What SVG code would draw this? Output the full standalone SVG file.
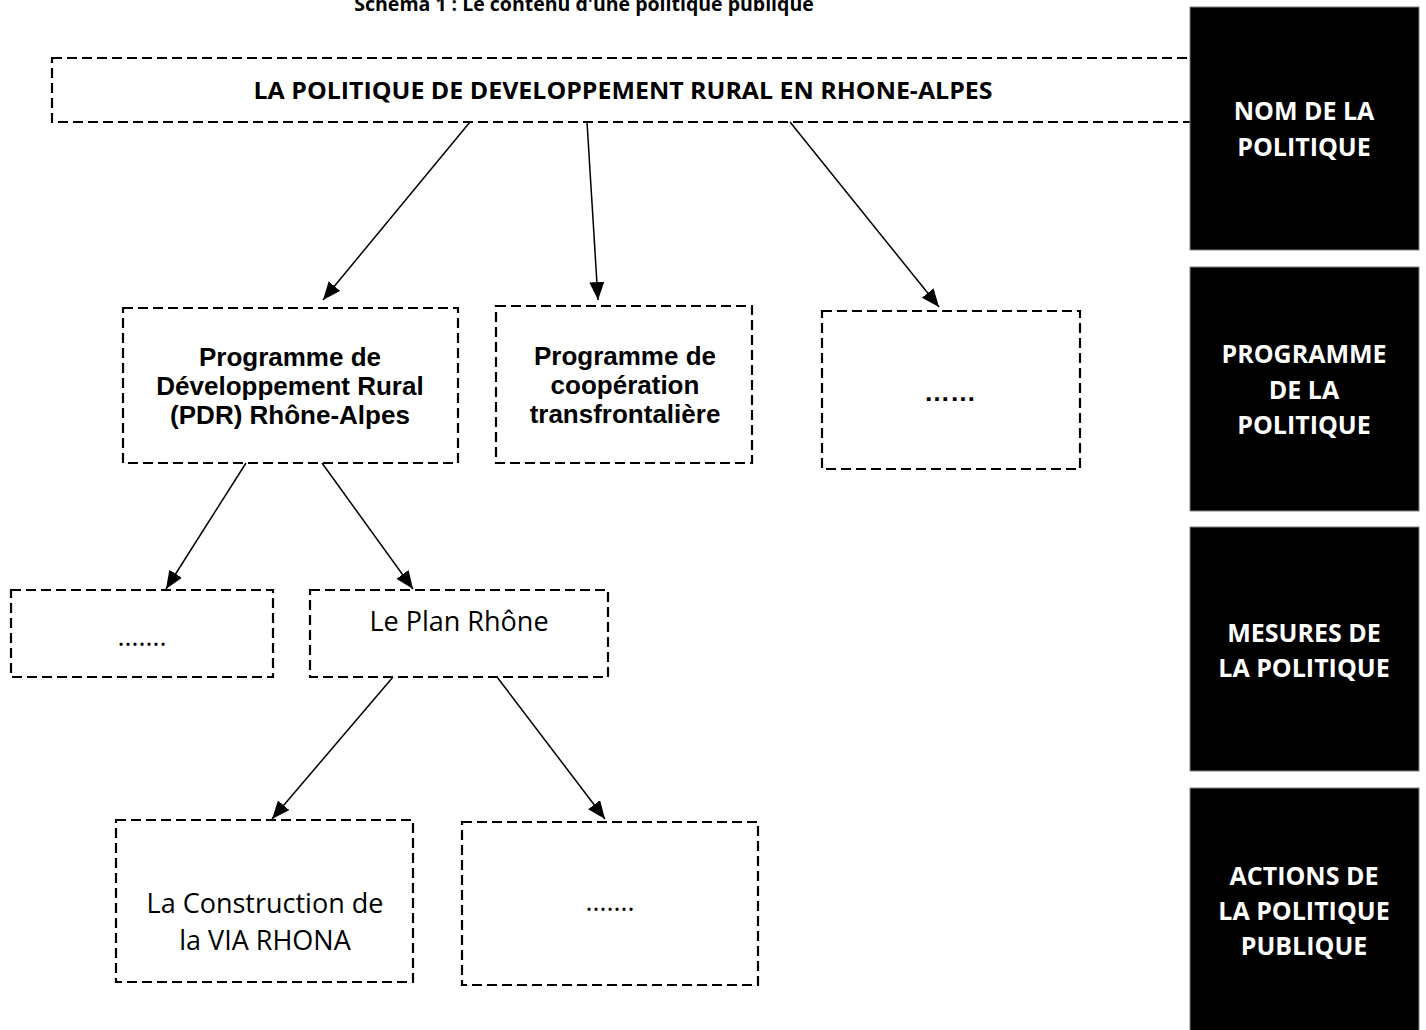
<svg xmlns="http://www.w3.org/2000/svg" width="1426" height="1030" viewBox="0 0 1426 1030">
<style>
.box{fill:#fff;stroke:#000;stroke-width:2.2;stroke-dasharray:10 5}
.blk{fill:#000;stroke:#7f7f7f;stroke-width:1}
.wt{fill:#fff;font-family:'Open Sans','DejaVu Sans',sans-serif;font-weight:bold;font-size:25px;text-anchor:middle}
.ar{font-family:'Liberation Sans',Arial,sans-serif;font-weight:bold;font-size:26px;text-anchor:middle;fill:#000}
.os{font-family:'Open Sans','DejaVu Sans',sans-serif;font-size:27px;text-anchor:middle;fill:#000}
.conn line{stroke:#000;stroke-width:1.5;marker-end:url(#ah)}
</style>
<defs>
<marker id="ah" markerUnits="userSpaceOnUse" markerWidth="20" markerHeight="16" refX="18" refY="7.5" orient="auto">
<path d="M0,0 L18,7.5 L0,15 z" fill="#000"/>
</marker>
</defs>
<rect width="1426" height="1030" fill="#fff"/>
<text x="584" y="11" font-family="'Open Sans','DejaVu Sans',sans-serif" font-weight="bold" font-size="19.5" text-anchor="middle">Schéma 1 : Le contenu d'une politique publique</text>

<g id="nom">
<rect class="box" x="52" y="58" width="1146" height="64"/>
<text x="623" y="99" font-family="'Open Sans','DejaVu Sans',sans-serif" font-weight="bold" font-size="24" text-anchor="middle" textLength="739" lengthAdjust="spacingAndGlyphs">LA POLITIQUE DE DEVELOPPEMENT RURAL EN RHONE-ALPES</text>
</g>

<g id="pdr">
<rect class="box" x="123" y="308" width="335" height="155"/>
<text class="ar" x="290" y="366">Programme de</text>
<text class="ar" x="290" y="395">Développement Rural</text>
<text class="ar" x="290" y="424">(PDR) Rhône-Alpes</text>
</g>
<g id="coop">
<rect class="box" x="496" y="306" width="256" height="157"/>
<text class="ar" x="625" y="365">Programme de</text>
<text class="ar" x="625" y="394">coopération</text>
<text class="ar" x="625" y="423">transfrontalière</text>
</g>
<g id="prog3">
<rect class="box" x="822" y="311" width="258" height="158"/>
<text class="ar" x="950" y="401">……</text>
</g>

<g id="mes1">
<rect class="box" x="11" y="590" width="262" height="87"/>
<text class="os" x="142" y="646">…….</text>
</g>
<g id="planrhone">
<rect class="box" x="310" y="590" width="298" height="87"/>
<text class="os" x="459" y="631">Le Plan Rhône</text>
</g>

<g id="viarhona">
<rect class="box" x="116" y="820" width="297" height="162"/>
<text class="os" x="265" y="913">La Construction de</text>
<text class="os" x="265" y="950">la VIA RHONA</text>
</g>
<g id="act2">
<rect class="box" x="462" y="822" width="296" height="163"/>
<text class="os" x="610" y="911">…….</text>
</g>

<g id="legend-nom">
<rect class="blk" x="1190" y="7" width="229" height="243"/>
<text class="wt" x="1304" y="120">NOM DE LA</text>
<text class="wt" x="1304" y="156">POLITIQUE</text>
</g>
<g id="legend-programme">
<rect class="blk" x="1190" y="267" width="229" height="244"/>
<text class="wt" x="1304" y="363">PROGRAMME</text>
<text class="wt" x="1304" y="399">DE LA</text>
<text class="wt" x="1304" y="434">POLITIQUE</text>
</g>
<g id="legend-mesures">
<rect class="blk" x="1190" y="527" width="229" height="244"/>
<text class="wt" x="1304" y="642">MESURES DE</text>
<text class="wt" x="1304" y="677">LA POLITIQUE</text>
</g>
<g id="legend-actions">
<rect class="blk" x="1190" y="788" width="229" height="250"/>
<text class="wt" x="1304" y="885">ACTIONS DE</text>
<text class="wt" x="1304" y="920">LA POLITIQUE</text>
<text class="wt" x="1304" y="955">PUBLIQUE</text>
</g>

<g id="connectors" class="conn">
<line x1="470" y1="122" x2="323" y2="300"/>
<line x1="587" y1="122" x2="598" y2="300"/>
<line x1="790" y1="122" x2="939" y2="307"/>
<line x1="246" y1="463" x2="166" y2="589"/>
<line x1="322" y1="463" x2="413" y2="589"/>
<line x1="393" y1="677" x2="272" y2="819"/>
<line x1="497" y1="677" x2="605" y2="819"/>
</g>
</svg>
